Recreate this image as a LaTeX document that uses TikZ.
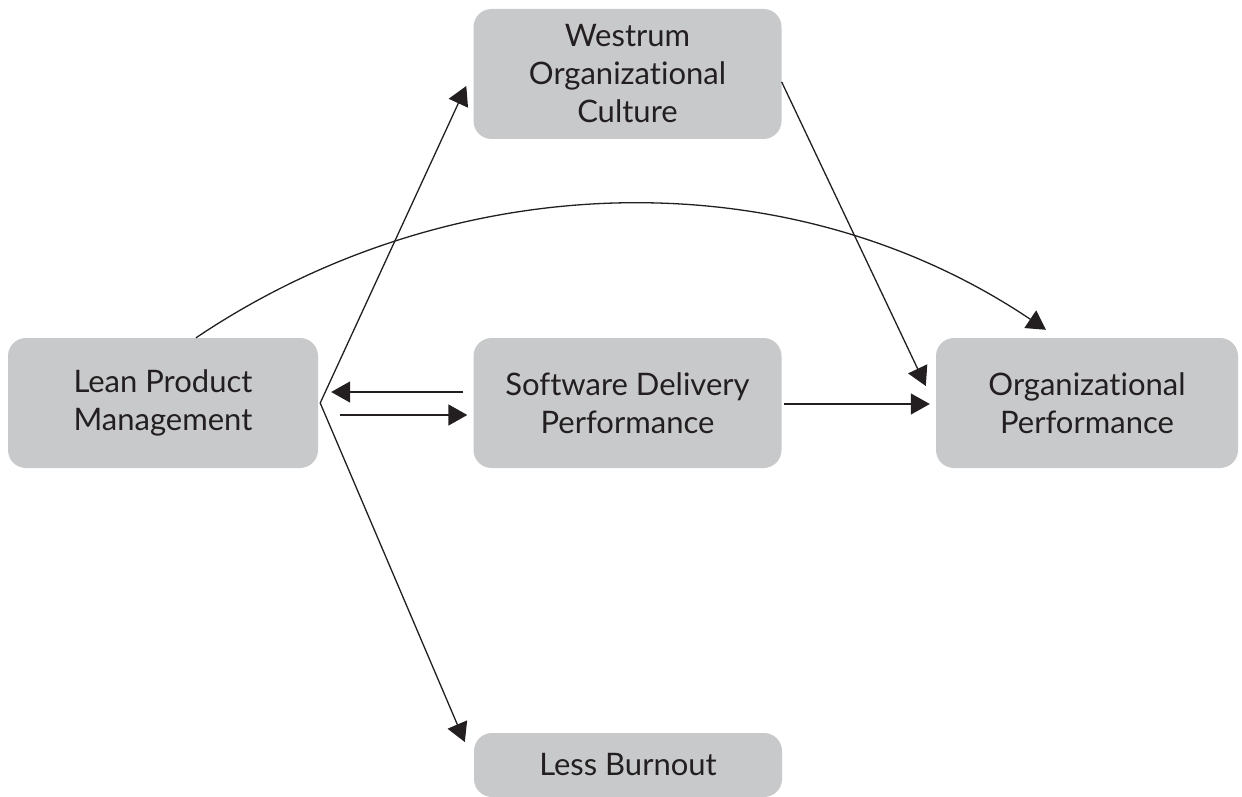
\documentclass[tikz,border=0pt]{standalone}
\usepackage{fontspec}
\setmainfont{Lato}[Ligatures={NoCommon}]
\usetikzlibrary{arrows.meta,calc}
\definecolor{boxgray}{HTML}{C8C9CB}
\definecolor{inkblack}{HTML}{231F20}
\tikzset{
  box/.style={fill=boxgray, rounded corners=18pt, inner sep=0pt, align=center,
    minimum width=308pt, minimum height=130pt,
    font=\fontsize{31}{38}\selectfont, text=inkblack},
  conn/.style={draw=inkblack, line width=1.3pt, -{Triangle[length=19pt,width=21pt]}},
  hconn/.style={draw=inkblack, line width=1.7pt, -{Triangle[length=19pt,width=21pt]}}
}
\begin{document}
\begin{tikzpicture}[x=1pt,y=-1pt]
\useasboundingbox (0,0) rectangle (1242,797);
\node[box, minimum width=310pt] (L) at (163,403) {Lean Product\\Management};
\node[box] (W) at (627.5,74) {Westrum\\Organizational\\Culture};
\node[box] (S) at (627.5,403) {Software Delivery\\Performance};
\node[box, minimum width=302pt] (O) at (1087,403) {Organizational\\Performance};
\node[box, minimum height=64pt] (B) at (628,765) {Less Burnout};

\coordinate (apex) at ($(L.east)+(2,0)$);
\coordinate (wtip) at ($(W.west)+(-7,12)$);
\coordinate (btip) at ($(B.west)+(-9,-23)$);
\coordinate (sl0) at ($(S.west)+(-10,-11)$);
\coordinate (sl1) at ($(L.east)+(13,-11)$);
\coordinate (ls0) at ($(L.east)+(22,12)$);
\coordinate (ls1) at ($(S.west)+(-6,12)$);
\coordinate (so0) at ($(S.east)+(2,1)$);
\coordinate (so1) at ($(O.west)+(-6,1)$);
\coordinate (wo0) at ($(W.east)+(0,8)$);
\coordinate (wo1) at ($(O.west)+(-10,-17)$);
\coordinate (c0) at ($(L.north)+(33,0)$);
\coordinate (c1) at ($(O.north)+(-41,-8)$);

\draw[conn] (apex) -- (wtip);
\draw[conn] (apex) -- (btip);
\draw[hconn] (sl0) -- (sl1);
\draw[hconn] (ls0) -- (ls1);
\draw[conn] (so0) -- (so1);
\draw[conn] (wo0) -- (wo1);
\draw[conn] (c0) .. controls (453,165) and (789,157) .. (c1);
\end{tikzpicture}
\end{document}
